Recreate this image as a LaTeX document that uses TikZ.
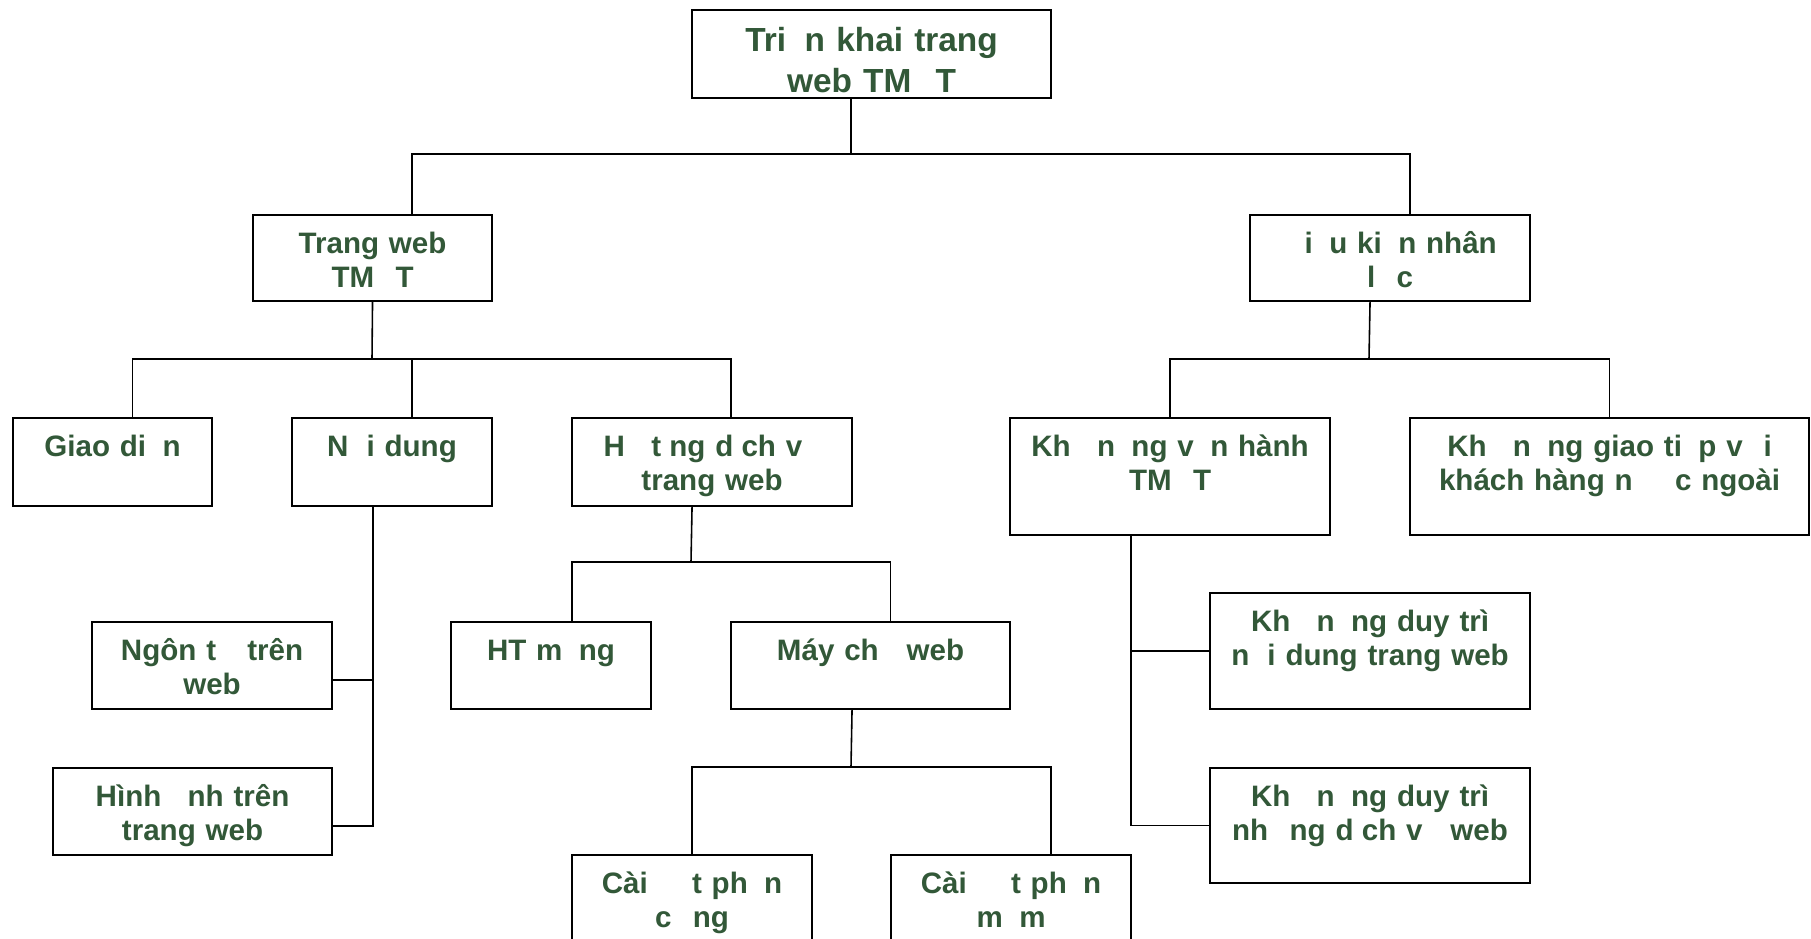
\documentclass[tikz,border=0pt]{standalone}
\usepackage{fontspec}
\setmainfont{Liberation Sans}
\usetikzlibrary{calc}
\definecolor{verdeoscuro}{RGB}{50,88,56}
\newcommand{\miss}[1]{\phantom{#1}}
\tikzset{
  caja/.style 2 args={
    draw=black,
    line width=0.55pt,
    anchor=north west,
    inner sep=0pt,
    align=center,
    text width=#1,
    text height=0.39cm,
    text depth=#2,
    text=verdeoscuro,
    font=\fontsize{8.4}{9.4}\selectfont\bfseries
  },
  raiz/.style={
    caja={3.59cm}{0.46cm},
    text height=0.42cm,
    font=\fontsize{9.5}{11.4}\selectfont\bfseries
  },
  linea/.style={
    line width=0.45pt,
    black
  }
}

\begin{document}
\begin{tikzpicture}[x=0.01cm,y=-0.01cm]
\useasboundingbox[fill=white] (0,0) rectangle (1811,939);
\node[raiz] (root) at (691,9) {Tri\miss{ể}n khai trang\\web TM\miss{Đ}T};
\node[caja={2.39cm}{0.47cm}] (tw) at (252,214) {Trang web\\TM\miss{Đ}T};
\node[caja={2.80cm}{0.47cm}] (dk) at (1249,214) {\miss{Đ}i\miss{ề}u ki\miss{ệ}n nhân\\l\miss{ự}c};
\node[caja={1.99cm}{0.49cm}] (gd) at (12,417) {Giao di\miss{ệ}n};
\node[caja={2.00cm}{0.49cm}] (nd) at (291,417) {N\miss{ộ}i dung};
\node[caja={2.80cm}{0.49cm}] (hs) at (571,417) {H\miss{ệ} t\miss{i}ng d\miss{ị}ch v\miss{ụ}\\trang web};
\node[caja={3.20cm}{0.78cm}] (kv) at (1009,417) {Kh\miss{ả} n\miss{ă}ng v\miss{ậ}n hành\\TM\miss{Đ}T};
\node[caja={3.99cm}{0.78cm}] (kg) at (1409,417) {Kh\miss{ả} n\miss{ă}ng giao ti\miss{ế}p v\miss{ớ}i\\khách hàng n\miss{ướ}c ngoài};
\node[caja={2.40cm}{0.48cm}] (nt) at (91,621) {Ngôn t\miss{ừ} trên\\web};
\node[caja={2.79cm}{0.48cm}] (ha) at (52,767) {Hình \miss{ả}nh trên\\trang web};
\node[caja={2.00cm}{0.48cm}] (hm) at (450,621) {HT m\miss{ạ}ng};
\node[caja={2.79cm}{0.48cm}] (mc) at (730,621) {Máy ch\miss{ủ} web};
\node[caja={2.40cm}{0.49cm}] (cc) at (571,854) {Cài \miss{đặ}t ph\miss{ầ}n\\c\miss{ứ}ng};
\node[caja={2.40cm}{0.49cm}] (cm) at (890,854) {Cài \miss{đặ}t ph\miss{ầ}n\\m\miss{ề}m};
\node[caja={3.20cm}{0.77cm}] (dn) at (1209,592) {Kh\miss{ả} n\miss{ă}ng duy trì\\n\miss{ộ}i dung trang web};
\node[caja={3.20cm}{0.76cm}] (dd) at (1209,767) {Kh\miss{ả} n\miss{ă}ng duy trì\\nh\miss{ữ}ng d\miss{ị}ch v\miss{ụ} web};
\coordinate (j1) at (851,154);
\coordinate (j2) at (372,359);
\coordinate (j3) at (1369,359);
\coordinate (j5) at (691,562);
\coordinate (j6) at (851,767);
\draw[linea] (root.south -| j1) -- (j1);
\draw[linea] ($(tw.north)+(39.5,0)$) |- (j1) -| ($(dk.north)+(20,0)$);
\draw[linea] (tw.south) -- (j2);
\draw[linea] ($(gd.north)+(20,0)$) |- (j2) -| ($(hs.north)+(19,0)$);
\draw[linea] ($(nd.north)+(20,0)$) -- ++(0,-58);
\draw[linea] ($(dk.south)+(-20,0)$) -- (j3);
\draw[linea] (kv.north) |- (j3) -| (kg.north);
\draw[linea] ($(nd.south)+(-19,0)$) |- ($(ha.east)+(0,14.5)$);
\draw[linea] ($(nt.east)+(0,14.5)$) -- ++(41,0);
\draw[linea] ($(hs.south)+(-20,0)$) -- (j5);
\draw[linea] ($(hm.north)+(21,0)$) |- (j5) -| ($(mc.north)+(20,0)$);
\draw[linea] ($(mc.south)+(-18.5,0)$) -- (j6);
\draw[linea] (cc.north) |- (j6) -| ($(cm.north)+(40,0)$);
\draw[linea] ($(kv.south)+(-39,0)$) |- (dd.west);
\draw[linea] (dn.west) -- ++(-79,0);
\end{tikzpicture}
\end{document}
